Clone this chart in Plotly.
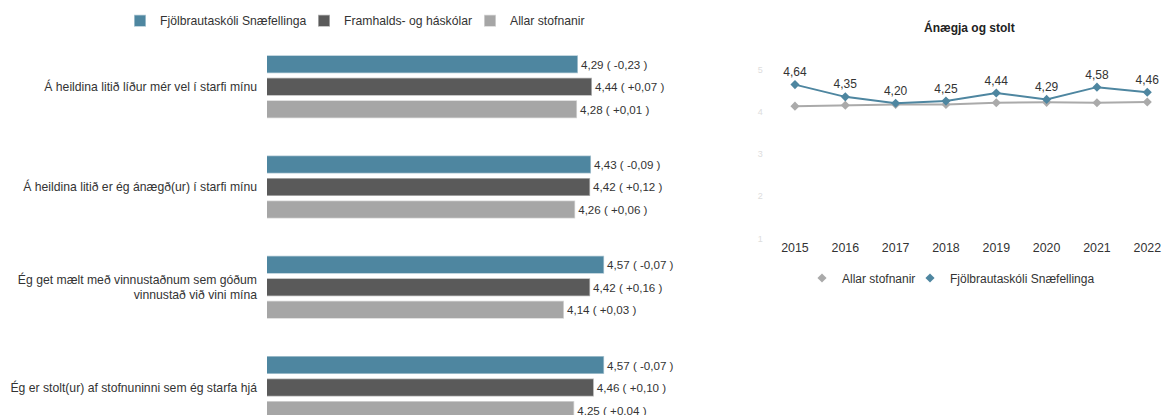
import plotly.graph_objects as go

# ---- data ----
questions = [
    "Á heildina litið líður mér vel í starfi mínu",
    "Á heildina litið er ég ánægð(ur) í starfi mínu",
    "Ég get mælt með vinnustaðnum sem góðum<br>vinnustað við vini mína",
    "Ég er stolt(ur) af stofnuninni sem ég starfa hjá",
]
series_names = ["Fjölbrautaskóli Snæfellinga", "Framhalds- og háskólar", "Allar stofnanir"]
school_vals = [4.29, 4.43, 4.57, 4.57]
school_diff = [-0.23, -0.09, -0.07, -0.07]
sector_vals = [4.44, 4.42, 4.42, 4.46]
sector_diff = [0.07, 0.12, 0.16, 0.10]
all_vals = [4.28, 4.26, 4.14, 4.25]
all_diff = [0.01, 0.06, 0.03, 0.04]

years = [2015, 2016, 2017, 2018, 2019, 2020, 2021, 2022]
trend_school = [4.64, 4.35, 4.20, 4.25, 4.44, 4.29, 4.58, 4.46]
trend_all = [4.13, 4.15, 4.17, 4.17, 4.21, 4.22, 4.21, 4.23]
trend_names = ["Allar stofnanir", "Fjölbrautaskóli Snæfellinga"]
trend_title = "Ánægja og stolt"

colors = ["#4e86a0", "#5a5a5a", "#a6a6a6"]
trend_colors = ["#aaaaaa", "#4e86a0"]
FONT = "Arial, Liberation Sans, sans-serif"
W, H = 1163, 415


def fmt(v, d):
    s = f"{v:.2f} ( {d:+.2f} )"
    return s.replace(".", ",")


def fx(px):
    return px / W


def fy(py):
    return 1 - py / H


# legend placement (left edge of each legend box, px)
bar_legend_ids = ["legend", "legend3", "legend4"]
bar_legend_x = [120.0, 304.0, 470.0]
line_legend_ids = ["legend2", "legend5"]
line_legend_x = [802.0, 910.0]

fig = go.Figure()
for name, vals, diffs, col, lid in zip(series_names,
                                       [school_vals, sector_vals, all_vals],
                                       [school_diff, sector_diff, all_diff], colors,
                                       bar_legend_ids):
    fig.add_trace(go.Bar(
        y=questions, x=vals, orientation="h", name=name,
        marker=dict(color=col, line=dict(color="rgba(255,255,255,0.55)", width=1.5)),
        text=[fmt(v, d) for v, d in zip(vals, diffs)],
        textposition="outside", textfont=dict(size=11.6, color="#333", family=FONT),
        cliponaxis=True, xaxis="x", yaxis="y", legend=lid,
        hoverinfo="skip",
    ))

# line chart
fig.add_trace(go.Scatter(
    x=years, y=trend_all, mode="lines+markers", name=trend_names[0],
    line=dict(color=trend_colors[0], width=2),
    marker=dict(symbol="diamond", size=7, color=trend_colors[0]),
    xaxis="x2", yaxis="y2", showlegend=False, hoverinfo="skip",
))
fig.add_trace(go.Scatter(
    x=years, y=trend_school, mode="lines+markers+text", name=trend_names[1],
    line=dict(color=trend_colors[1], width=2),
    marker=dict(symbol="diamond", size=7, color=trend_colors[1]),
    text=[f"{v:.2f}".replace(".", ",") for v in trend_school], textposition="top center",
    textfont=dict(size=12, color="#333", family=FONT),
    xaxis="x2", yaxis="y2", showlegend=False, hoverinfo="skip", cliponaxis=False,
))
# legend entries (marker only) for line chart
for name, col, lid in zip(trend_names, trend_colors, line_legend_ids):
    fig.add_trace(go.Scatter(
        x=[None], y=[None], mode="markers", name=name,
        marker=dict(symbol="diamond", size=7, color=col),
        xaxis="x2", yaxis="y2", legend=lid, showlegend=True,
    ))

# geometry (reference pixels)
bar_left, bar_right = 267, 700
px_per_unit = 93.3
x0 = 0.957
x1 = x0 + (bar_right - bar_left) / px_per_unit

grp_first, grp_step = 86.7, 100.27
top_px = 36
y_top_idx = (top_px - grp_first) / grp_step
y_bot_idx = (H - grp_first) / grp_step

line_left = 769.8
yr_px = 50.33
lx0 = 2014.5
lx1 = lx0 + (W - line_left) / yr_px

legend_common = dict(orientation="h", xanchor="left", yanchor="middle",
                     bgcolor="rgba(0,0,0,0)", itemwidth=30)

layout_legends = {}
for lid, lx in zip(bar_legend_ids, bar_legend_x):
    layout_legends[lid] = dict(legend_common, x=fx(lx), y=fy(20.7),
                               font=dict(size=12.2, color="#333", family=FONT))
for lid, lx in zip(line_legend_ids, line_legend_x):
    layout_legends[lid] = dict(legend_common, x=fx(lx), y=fy(278),
                               font=dict(size=12, color="#333", family=FONT))

fig.update_layout(
    width=W, height=H,
    margin=dict(l=0, r=0, t=0, b=0, autoexpand=False),
    paper_bgcolor="white", plot_bgcolor="white",
    font=dict(family=FONT, color="#333", size=11),
    separators=",.",
    barmode="group", bargap=0.327, bargroupgap=0.2,
    xaxis=dict(domain=[fx(bar_left), fx(bar_right)], range=[x0, x1], automargin=False,
               showgrid=False, zeroline=False, showticklabels=False, showline=False),
    yaxis=dict(domain=[0, fy(top_px)], type="category", range=[y_bot_idx, y_top_idx],
               showgrid=False, zeroline=False, showline=False, ticks="", automargin=False,
               tickfont=dict(size=12.2, color="#333"), ticklabelstandoff=9, anchor="x"),
    xaxis2=dict(domain=[fx(line_left), 1], range=[lx0, lx1], anchor="y2", automargin=False,
                showgrid=False, zeroline=False, showline=False, ticks="",
                tickvals=years, tickfont=dict(size=12.4, color="#333")),
    yaxis2=dict(domain=[fy(238.4), fy(69.4)], range=[1, 5], anchor="x2", automargin=False,
                showgrid=False, zeroline=False, showline=False, ticks="",
                tickvals=[1, 2, 3, 4, 5], tickfont=dict(size=9, color="#dddddd"),
                ticklabelstandoff=6),
    annotations=[dict(text=f"<b>{trend_title}</b>", x=fx(969), y=fy(27),
                      xref="paper", yref="paper", showarrow=False,
                      font=dict(size=12, color="#222"), xanchor="center", yanchor="middle")],
    **layout_legends,
)

fig.write_html("out.html",
               config={"displayModeBar": False},
               post_script="document.body.style.margin='0';document.body.style.overflow='hidden';")
